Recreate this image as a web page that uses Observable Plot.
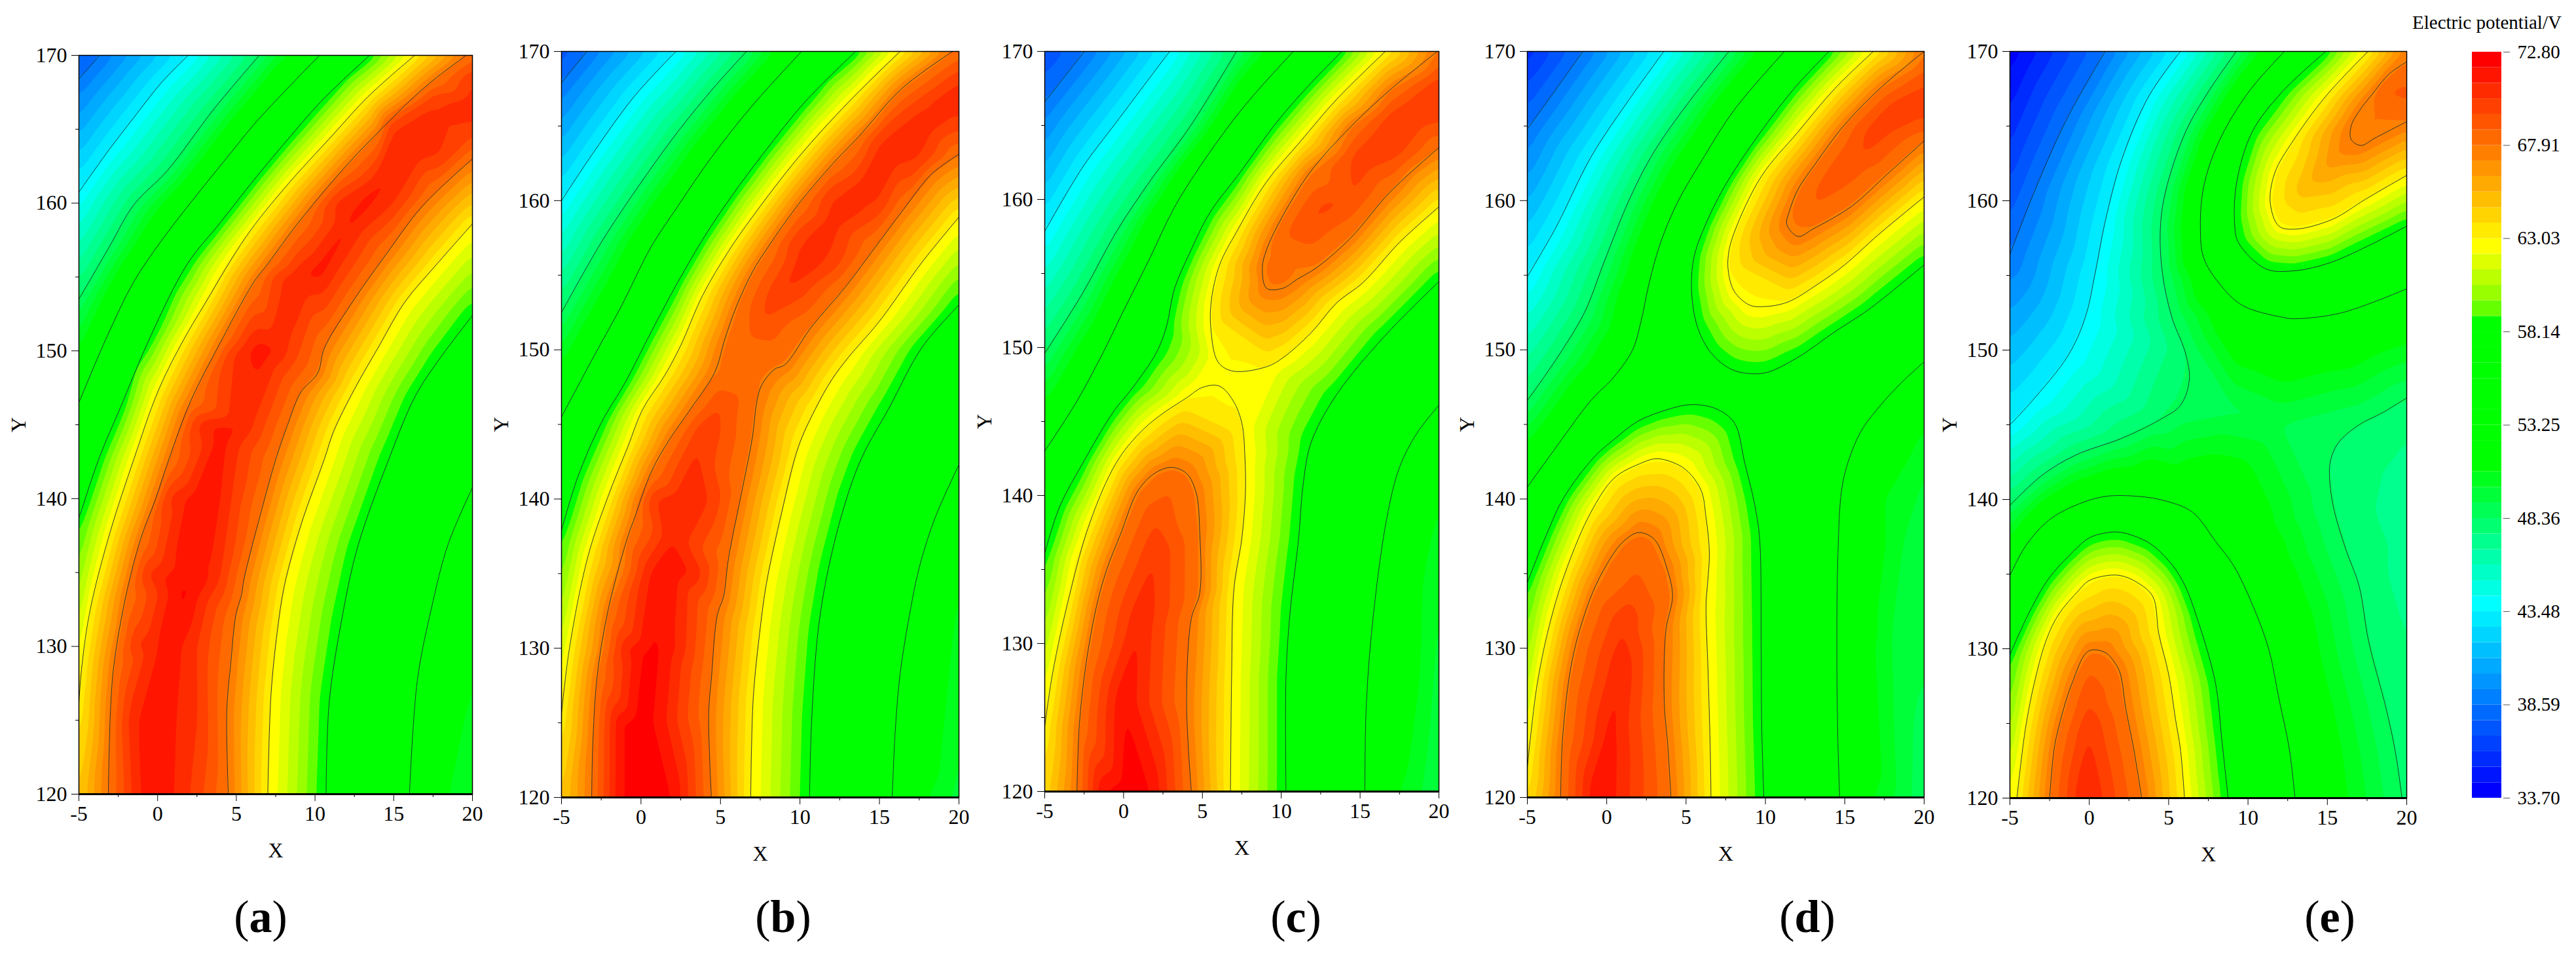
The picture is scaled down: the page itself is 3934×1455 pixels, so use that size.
<!DOCTYPE html>
<html>
<head>
<meta charset="utf-8">
<script src="https://cdn.jsdelivr.net/npm/d3@7"></script>
<script src="https://cdn.jsdelivr.net/npm/@observablehq/plot@0.6"></script>
<style>
html,body{margin:0;padding:0;background:#fff}
#page{position:relative;width:3934px;height:1455px;overflow:hidden;background:#fff;font-family:"Liberation Serif",serif;color:#000}
#page svg{position:absolute;overflow:visible;max-width:none}
.cap{position:absolute;transform:translateX(-50%);font-size:70px;line-height:70px;white-space:nowrap}
.title{position:absolute;font-size:29px;line-height:32px;white-space:nowrap}
</style>
</head>
<body>
<div id="page"></div>
<script>
// Colour bands shared by all panels
const levels = [33.70,34.51,35.33,36.14,36.96,37.77,38.59,39.40,40.22,41.03,41.85,42.66,43.48,44.29,45.10,45.92,46.73,47.55,48.36,49.18,49.99,50.81,51.62,52.44,53.25,54.06,54.88,55.69,56.51,57.32,58.14,58.95,59.77,60.58,61.40,62.21,63.03,63.84,64.65,65.47,66.28,67.10,67.91,68.73,69.54,70.36,71.17,71.99,72.80];
const bandColors = ["#0000ff","#0015ff","#002bff","#0040ff","#0055ff","#006aff","#0080ff","#0095ff","#00aaff","#00bfff","#00d5ff","#00eaff","#00ffff","#00ffe3","#00ffc6","#00ffaa","#00ff8e","#00ff71","#00ff55","#00ff39","#00ff1c","#00ff00","#00ff00","#00ff00","#00ff00","#00ff00","#00ff00","#00ff00","#00ff00","#00ff00","#00ff00","#66ff00","#99ff00","#bbff00","#ddff00","#ffff00","#ffea00","#ffd400","#ffbf00","#ffaa00","#ff9500","#ff8000","#ff6a00","#ff5500","#ff4000","#ff2b00","#ff1500","#ff0000"];
const barTicks = [33.70,38.59,43.48,48.36,53.25,58.14,63.03,67.91,72.80];
const xTicks = [-5,0,5,10,15,20];
const xMinor = [-2.5,2.5,7.5,12.5,17.5];
const yTicks = [120,130,140,150,160,170];
const yMinor = [125,135,145,155,165];

// Isolines: [level, [[x,y],...]]
const isolinesA = [
 [38.59,[[-5,168.4],[-3.68,170]]],
 [43.48,[[-5,160.75],[-3.09,163.6],[-1.5,165.8],[0.2,168.1],[1.94,170]]],
 [48.36,[[-5,153.5],[-3.09,157],[-1.5,159.9],[0.62,162.2],[3.6,166.4],[6.46,170]]],
 [53.25,[[-5,146.5],[-3.2,151],[-1.5,154.7],[0.41,157.7],[2.3,160.3],[4.65,163.4],[6.35,165.6],[10.28,170]]],
 [58.14,[[-5,138.7],[-4.9,139],[-3.73,142.7],[-2.35,146.2],[-0.44,151],[1.9,155.9],[4,158.7],[6.14,161.6],[8.5,164.6],[10.4,166.9],[13.46,170]]],
 [63.03,[[-5,126.2],[-4.8,128.8],[-4.26,132.6],[-3,137.8],[-1.5,142.7],[0,147.2],[1.47,150.4],[3.06,153.3],[5.6,157.7],[8.05,161],[11.2,164.7],[13.36,167.2],[16.33,170]]],
 [67.91,[[-3.13,120],[-3.09,122.4],[-2.98,126],[-2.77,128.8],[-2,133.5],[-1.07,137.3],[-0.12,140],[0.73,142.7],[2.1,146.6],[4,150.6],[6.14,154.7],[7,155.9],[9.1,158.9],[11.87,162.4],[14.2,165],[16.3,167.2],[17.6,168.4],[19.6,170]]],
 [67.91,[[20,163],[17.6,160.65],[16.4,159.27],[14.63,156.7],[12.5,153.5],[10.6,150.2],[10.17,148.5],[9.1,147.2],[8.26,145],[7.52,142.7],[6.55,139],[5.5,134.6],[5.33,133.5],[4.97,132.1],[4.66,129],[4.4,125.7],[4.49,120]]],
 [63.03,[[20,158.6],[17.6,155.7],[15.7,153.3],[14,150.2],[12.5,147.4],[11.2,144.6],[10.6,142.7],[9.1,138.2],[8.05,134.1],[7.6,131],[7.2,126.7],[7,120]]],
 [58.14,[[20,152.4],[17.6,149],[16.3,146.8],[14.7,142.7],[12.7,136.7],[11.66,131.6],[10.9,126.2],[10.7,120]]],
 [53.25,[[20,140.75],[18.45,136.9],[17.4,132.6],[16.5,127.7],[16,120]]]
];
const peaksA = [[-5,170,37.5],[20,170,68.3],[-5,120,64.5],[20,120,50.2],[18.45,120,50.81],[20,128,50.81],
 [0,120,71.7],[0.5,125,71.6],[0.8,130,71.5],[1.7,133.7,72.3],[2.5,140,71.6],[4,144,71.6],[6.57,150,71.7],[10.2,155.3,71.6],[12.3,158.7,71.4],[14,161,71.4],[16.5,163.4,70.8],[20,166.8,70.8],[20,168.4,70.36],[20,165.4,70.36],
 [-1.2,120,71.17],[-1.4,125,71.17],[-0.1,130,71.17],[0.73,135,71.17],[1.7,140,71.17],[3.4,145,71.17],[5.8,150,71.17],[9.1,155,71.17],
 [1.1,120,71.17],[1.2,125,71.17],[1.6,130,71.17],[3.5,135,71.17],[4.2,140,71.17],[5.3,145,71.17],[7.6,150,71.17],[10.5,155,71.17],
 [-1.65,120,70.36],[-1.9,125,70.36],[-1.4,130,70.36],[-0.65,135,70.36],[0.62,140,70.36],[2.5,145,70.36],[4.9,150,70.36],[7.85,155,70.36],[11.2,160,70.36],[14.8,165,70.36],[17.5,166.8,70.36],
 [2.1,120,70.36],[2.6,125,70.36],[2.53,130,70.36],[4,135,70.36],[4.65,140,70.36],[6.1,145,70.36],[8.26,150,70.36],[11.2,155,70.36],[15.05,160,70.36],[18,163.2,70.36]];

const isolinesB = [
 [38.59,[[-5,167.9],[-3.4,170]]],
 [43.48,[[-5,160],[-2.94,163.3],[-0.41,167],[2.2,170]]],
 [48.36,[[-5,152.5],[-2.5,157.2],[-0.2,160.9],[2.3,164.6],[4.64,167.65],[6.64,170]]],
 [53.25,[[-5,145.5],[-3.15,149.2],[-1.25,152.9],[0.64,156.9],[2.3,159.6],[4.43,162.9],[6.95,166.3],[10.1,170]]],
 [58.14,[[-5,137.9],[-4,141.4],[-2.5,145.1],[-1,147.8],[0.64,151.2],[2.3,154.5],[4,157.6],[5.7,160.3],[7.8,163.3],[10.3,166.6],[13.5,170]]],
 [63.03,[[-5,125.6],[-4.5,130],[-3.35,136.1],[-2.1,140.1],[-0.83,143.5],[0.1,146],[1.5,148.3],[2.5,150.3],[3.9,153.7],[5.5,156.6],[7,158.9],[9.9,162.9],[13.05,166.6],[16.3,170]]],
 [67.91,[[-3.1,120],[-3.04,123.3],[-2.77,128],[-2.1,132.4],[-0.94,137.1],[-0.4,138.75],[0.64,141.8],[1.8,144],[3.16,146.1],[4.64,148.5],[5.27,150.7],[6,152.9],[7,155.2],[8,156.9],[9.9,159.75],[12,162.4],[13.7,164.3],[16.4,167.5],[19.6,170]]],
 [67.91,[[20,163.1],[18.3,161.8],[16.4,159.25],[14.75,156.9],[12.85,154.2],[10.7,151.5],[9.05,149],[8.4,148.7],[7.6,147.65],[7.3,146.6],[7,144.1],[6.4,140.8],[5.5,136],[5.2,133.5],[4.8,132.2],[4.43,128],[4.26,125.6],[4.43,120]]],
 [63.03,[[20,158.9],[17.7,155.9],[14.95,151.85],[13.05,149.5],[12,148],[10.95,146],[9.9,143.5],[8.85,139.1],[7.9,134.4],[7.5,131.35],[7.06,126.65],[6.9,120]]],
 [58.14,[[20,153],[17.7,150.2],[15.6,146.1],[13.9,142.8],[12.85,139.75],[11.8,135.4],[11.16,131.35],[10.74,125.3],[10.6,120]]],
 [53.25,[[20,142.3],[18.5,138.75],[17.5,135.4],[16.85,132],[16.3,128.3],[16,124.6],[15.8,120]]]
];
const peaksB = [[-5,170,37.3],[20,170,68.2],[-5,120,64.5],[20,120,49.7],[18.1,120,50.81],[19.4,120,50],[20,135,50.81],
 [0.5,120,72.5],[-1.25,120,72],[2,120,72],[-0.2,125,72.3],[-1.25,125,72],[0.9,125,72],[0,129.7,72],[1.27,129.7,72],[0.6,129.7,72.2],[-0.9,130,71.17],[2.2,130,71.17],
 [1,135,71.6],[2,135,71.6],[0.54,135,71.17],[3.2,135,71.17],[2,137.4,71.17],[0.85,140,70.36],[2.5,140,70.9],[4.36,140,70.36],[3.5,143.1,70.5],[4,144.5,70.36],[5,146.3,69.54],[5.9,149.85,68.3],
 [6.85,150.85,68.73],[7.6,152,69.54],[8.8,153.9,70.36],[10,155.5,70.8],[12,158.5,70.8],[14,161,70.8],[16,163,70.8],[18,165,70.8],[20,166.8,70.8],
 [9.9,157.2,70.36],[12,160.25,70.36],[14.95,163.95,70.36],[17.5,166.1,70.36],[20,168,70.36],[10,154.6,70.36],[11.8,155.9,70.36],[14.95,159.9,70.36],[17.5,162.8,70.36],[20,165.6,70.36]];

const isolinesC = [
 [38.59,[[-5,166.6],[-2.48,170]]],
 [43.48,[[-5,157.85],[-2.58,162.2],[-0.47,165.2],[2.92,170]]],
 [48.36,[[-5,149.6],[-2.58,153.7],[-0.47,157.8],[1.65,161.2],[4.2,164.9],[7.16,170]]],
 [53.25,[[-5,143],[-3,146.3],[-1.3,149.65],[-0.04,152.4],[1.65,156],[3.14,159.3],[4.83,162.2],[7.58,166.2],[10.76,170]]],
 [58.14,[[-5,136.1],[-4.07,139.2],[-2.58,142.2],[-0.68,145.6],[0.59,147.3],[2.08,149.65],[2.7,151.35],[3.24,154],[4.2,156.4],[5.47,159.1],[7.37,161.8],[9.7,165.2],[11.4,167.3],[13.83,170]]],
 [63.03,[[16.6,170],[13.5,166.75],[11.2,163.9],[9.07,161.2],[7.16,157.8],[6.1,155.6],[5.57,153.2],[5.53,151.35],[6,149],[6.95,148.4],[9.07,148.7],[10.1,149.3],[11.9,151],[13.5,153],[15.2,154.4],[17.5,157.1],[20,159.5]]],
 [63.03,[[-5,124.4],[-4.5,128],[-3.4,133.4],[-2.16,138.1],[-0.47,142.2],[1,144.2],[2.3,145.4],[4,146.6],[5,147.3],[6.06,147.4],[6.95,146.4],[7.5,144.9],[7.7,142.5],[7.73,140.2],[7.5,137.1],[7,133.7],[6.85,127.65],[6.78,120]]],
 [67.91,[[20,163.5],[16.9,160.5],[14.4,157.4],[12.25,155.4],[11,154.6],[10.1,154],[9.07,154],[8.8,155.4],[9.07,156.6],[9.9,158.5],[11.8,161.8],[14.4,164.9],[16.9,167.4],[19.9,170]]],
 [67.91,[[-2.96,120],[-2.8,124.6],[-2.37,128.7],[-1.74,132.4],[-1.1,134.9],[-0.15,137.5],[0.9,140.3],[1.97,141.5],[3.03,141.9],[3.98,141.5],[4.6,140.2],[4.83,137.5],[4.83,133.4],[4.3,131.7],[4,126],[4.3,120]]],
 [58.14,[[20,154.45],[16.5,150.7],[13.5,146.8],[11.9,143.6],[11.4,140.85],[11.1,137.1],[10.55,132],[10.3,127.7],[10.3,120]]],
 [53.25,[[20,146.1],[18.6,144.2],[17.5,141.9],[16.7,138.5],[15.85,132],[15.4,126],[15.3,120]]]
];
const peaksC = [[-5,170,37],[20,170,68.1],[-5,120,64],[20,120,49.2],[17.5,120,50.81],[18.9,120,50],[18.8,127.7,50.81],[20,139.5,50.81],[20,134.4,50],
 [0.3,120,72.6],[-1.3,120,72],[1.75,120,72],[0,126,72],[1,131.2,71.17],[2,136,70.36],[2,138.3,69.54],[3,140.3,68.7],
 [9.4,155.3,68.1],[11.6,158.4,69.6],[12.8,159.5,69.8],[15.2,162.5,70],[16.6,164,70.5],[18.3,165.8,70.5],[20,167.3,70.5],
 [14.4,160.1,69.54],[17.5,162.9,69.54],[20,165.2,69.54],[14.4,162.9,69.54],[16.9,165.9,69.54],[20,168.3,69.54],[7,147.9,62.8]];

const isolinesD = [
 [38.59,[[-5,164.8],[-3.3,167.3],[-1.5,170]]],
 [43.48,[[-5,154.9],[-3.2,158.2],[-1,162.9],[1.3,166.6],[3.6,170]]],
 [48.36,[[-5,146.6],[-3.1,149.5],[-1.4,152.5],[-0.16,155.9],[1.5,160.25],[3,163.3],[5.1,166.5],[7.7,170]]],
 [53.25,[[-5,140.8],[-3.1,143.6],[-1,146.6],[0.47,148.2],[1.63,150],[2.15,151.85],[2.68,154.5],[3.4,157.2],[4.47,159.9],[5.94,162.6],[8.05,166.1],[11.2,170]]],
 [58.14,[[14,170],[11.8,167.5],[9.3,164],[7.4,160.9],[6.15,158.2],[5.5,156.2],[5.35,153.9],[5.73,151.5],[6.57,149.8],[7.84,148.7],[9.1,148.4],[10.15,148.5],[12.05,149.5],[14.36,151.2],[16.5,152.7],[20,155.7]]],
 [63.03,[[16.8,170],[14.36,167.5],[12.05,164.6],[9.73,161.6],[8.05,157.9],[7.67,156.4],[7.67,155.2],[8.05,153.9],[9,153],[9.94,152.9],[11.4,153.2],[13.3,154.4],[15,155.7],[17.1,157.7],[20,160.25]]],
 [67.91,[[20,164],[17.7,161.8],[15.4,159.6],[13,158.1],[12.05,157.6],[11.35,158.4],[11.5,159.25],[12.05,160.75],[13.1,162.4],[15,165.1],[17.3,167.6],[20,170]]],
 [63.03,[[-5,122],[-4.37,127.65],[-3.5,132],[-2.5,135.4],[-1,139.1],[0.47,141.4],[2.05,142.35],[3.1,142.7],[4.05,142.5],[5,141.95],[5.94,140.6],[6.26,138.75],[6.47,136.4],[6.36,134.4],[6.26,133],[6.4,128],[6.53,123],[6.57,120]]],
 [67.91,[[-2.9,120],[-2.8,123.6],[-2.37,128],[-1.84,130.7],[-0.9,133.7],[0.05,135.7],[1,137.1],[2,137.75],[3,137.3],[3.84,135.2],[4.15,133.5],[3.73,131.2],[3.63,126.3],[3.84,123.6],[4.05,120]]],
 [58.14,[[-5,134.4],[-3.74,137.75],[-2.7,140.1],[-0.8,142.8],[0.47,144],[1.94,145.2],[3.84,146],[5,146.3],[5.94,146.3],[7,146],[8.05,145.1],[8.7,142.4],[9.3,139.75],[9.63,137.4],[9.73,130.3],[9.77,124.6],[9.9,120]]],
 [53.25,[[20,149.2],[18.57,147.8],[17.1,146.1],[16,144.5],[15.2,142.45],[14.8,140.6],[14.57,136.4],[14.5,129.7],[14.57,123.6],[14.68,120]]]
];
const peaksD = [[-5,170,35.7],[20,170,67.9],[-5,120,63.6],[20,120,48.7],[16.8,120,50.81],[18,120,50],[19.2,120,49.17],[20,144.8,50.81],[20,142,50],[17.9,131.4,50],[18.6,137.4,50],[16.9,130,50.81],[17.5,140,50.81],
 [-0.5,120,72.2],[0.2,124,71.6],[0.9,128.5,71.17],[1,131.4,70.36],[1.9,134.7,68.9],[2,136.5,68.3],
 [12.9,159.6,68.73],[14,161.2,69.2],[15.4,162.8,69.54],[16.5,163,69.54],[16,164.6,69.54],[17.5,164.6,69.8],[18,166.3,69.9],[20,166.3,70],[20,167.8,69.54],[20,165.5,69.54],[20,168.8,68.73],[20,164.7,68.73]];

const isolinesE = [
 [38.59,[[-5,156.4],[-3.6,160.25],[-1.5,165.3],[1,170]]],
 [43.48,[[-5,145],[-3.6,146.6],[-1.3,149.7],[-0.25,152.2],[0.38,155.2],[1,158.6],[2.06,162.8],[3.75,167],[5.74,170]]],
 [48.36,[[-5,139.6],[-3,141.6],[-0.9,142.95],[2.06,144.1],[4.38,145.3],[5.74,146.3],[6.3,148],[6.06,149.8],[5.2,152.2],[4.6,155.2],[4.48,158.2],[4.8,160.6],[6.06,164.6],[7.5,167.3],[9.26,170]]],
 [53.25,[[12.3,170],[10.05,167.3],[8.16,163.95],[7.2,160.9],[7,158.2],[7.2,156.2],[8.16,154.5],[9.63,153],[12.16,152.2],[13,152.1],[15.9,152.5],[20,154.1]]],
 [58.14,[[14.9,170],[12.16,167.3],[10.26,164.6],[9.3,161.3],[9.15,158.6],[9.4,157.2],[11.1,155.45],[12.8,155.3],[15.3,155.9],[20,158.3]]],
 [63.03,[[17.56,170],[14.9,167],[12.8,163.95],[11.7,161.9],[11.4,159.9],[11.95,158.3],[13,158.1],[15.3,158.75],[17.4,160.1],[20,161.7]]],
 [67.91,[[20,169.3],[18.9,168.5],[17.8,167.1],[17,166],[16.5,165],[16.5,164.1],[17.1,163.7],[18,164.2],[20,165.3]]],
 [63.03,[[-4.56,120],[-4.03,124.6],[-3.4,128],[-2.67,130.7],[-1.93,132.3],[-0.67,133.9],[-0.04,134.55],[1.1,134.9],[1.96,134.9],[3,134.45],[4,133.5],[4.38,131],[5,128.3],[5.43,125.3],[5.74,123.3],[6,120]]],
 [58.14,[[-5,129.6],[-3.8,132.4],[-2.56,134.7],[-1.3,136.2],[-0.04,137.4],[1,137.75],[1.96,137.8],[3.75,137.1],[5,135.9],[5.95,134.4],[6.9,131.7],[7.95,127.7],[8.37,123.7],[8.75,120]]],
 [53.25,[[-5,134.9],[-4,136.9],[-2.56,138.6],[-0.88,139.6],[1,140.2],[3.12,140.2],[4.8,139.9],[6.5,139.15],[7.95,137.2],[9.1,135.55],[10.26,133],[11.3,130],[11.95,126.65],[12.6,123.3],[12.96,120]]],
 [48.36,[[20,146.8],[18.46,145.8],[17,145],[15.7,143.8],[15.2,142.6],[15.14,141.4],[15.4,139.4],[16.15,136.7],[17,134.2],[17.6,130.5],[18.7,126],[19.3,123],[19.7,120]]],
 [67.91,[[-2.5,120],[-2.25,123],[-2.03,124.3],[-1.1,127.65],[-0.04,129.85],[1,129.75],[1.65,129],[1.96,128.3],[2.3,126],[2.8,123.3],[3.3,120]]]
];
const peaksE = [[-5,170,34],[20,170,67.5],[-5,120,62.2],[20,120,48.2],
 [20,167.3,69],[19,167.3,68.9],[12.3,160,63.9],[13.5,160.8,65.2],[15.3,162.7,66.8],
 [-0.2,120,71.4],[-0.04,124.6,70.36],[-0.04,126.5,69.54],[-0.04,128.7,68.7],[0.5,129.5,68],
 [9,146,49],[12,145,49.2],[20,144.1,47.55],[18,142.1,47.55],[17.9,139.4,47.55],[18.8,134.7,47.55],[20,130.4,47.55],[20,137,47.2]];

const panels = [
 {isolines:isolinesA,peaks:peaksA,left:120,right:721,top:84,bottom:1212,name:"a",capX:398},
 {isolines:isolinesB,peaks:peaksB,left:857,right:1464,top:78,bottom:1217,name:"b",capX:1196},
 {isolines:isolinesC,peaks:peaksC,left:1595,right:2197,top:78,bottom:1208,name:"c",capX:1979},
 {isolines:isolinesD,peaks:peaksD,left:2332,right:2938,top:78,bottom:1217,name:"d",capX:2760},
 {isolines:isolinesE,peaks:peaksE,left:3069,right:3675,top:78,bottom:1218,name:"e",capX:3558}
];

const colorScale = {type:"threshold",domain:levels.slice(1,48),range:bandColors};
const fontFamily = '"Liberation Serif",serif';
const page = document.getElementById("page");
const mL=110,mR=40,mT=30,mB=110;

for (const p of panels) {
  const samples = [
    ...p.isolines.flatMap(([v,pts]) => pts.map(([x,y]) => ({x,y,v}))),
    ...p.peaks.map(([x,y,v]) => ({x,y,v}))
  ];
  const lineRows = p.isolines.flatMap(([v,pts],id) => pts.map(([x,y]) => ({x,y,id})));
  const chart = Plot.plot({
    width:p.right-p.left+mL+mR,
    height:p.bottom-p.top+mT+mB,
    marginLeft:mL,marginRight:mR,marginTop:mT,marginBottom:mB,
    style:{fontFamily,fontSize:"32px",background:"transparent",color:"#000"},
    x:{domain:[-5,20]},
    y:{domain:[120,170]},
    color:colorScale,
    marks:[
      Plot.contour(samples,{x:"x",y:"y",fill:"v",interpolate:"barycentric",thresholds:levels.slice(0,48),blur:3,pixelSize:2,clip:true}),
      Plot.line(lineRows,{x:"x",y:"y",z:"id",curve:"catmull-rom",stroke:"#1c2c34",strokeWidth:0.9,clip:true}),
      Plot.frame({stroke:"#000",strokeWidth:1.5}),
      Plot.ruleY([120],{stroke:"#000",strokeWidth:3}),
      Plot.axisX(xTicks,{anchor:"bottom",tickSize:11,tickPadding:7,fontSize:32,tickFormat:d=>String(d),label:"X",labelAnchor:"center",labelArrow:"none",labelOffset:96}),
      Plot.axisX(xMinor,{anchor:"bottom",tickSize:5,tickFormat:()=>"",label:null}),
      Plot.axisY(yTicks,{anchor:"left",tickSize:11,tickPadding:7,fontSize:32,tickFormat:d=>String(d),label:"Y",labelAnchor:"center",labelArrow:"none",labelOffset:104}),
      Plot.axisY(yMinor,{anchor:"left",tickSize:5,tickFormat:()=>"",label:null})
    ]
  });
  chart.style.left=(p.left-mL)+"px";
  chart.style.top=(p.top-mT)+"px";
  page.appendChild(chart);
  const cap=document.createElement("div");
  cap.className="cap";
  cap.style.left=p.capX+"px";
  cap.style.top="1365px";
  cap.innerHTML="(<b>"+p.name+"</b>)";
  page.appendChild(cap);
}

// Colour bar
const barRows = levels.slice(0,48).map((lo,i)=>({lo,hi:levels[i+1]}));
const bar = Plot.plot({
  width:47+110,height:1218-79+40,
  marginLeft:0,marginRight:110,marginTop:20,marginBottom:20,
  style:{fontFamily,fontSize:"29px",background:"transparent",color:"#000"},
  x:{domain:[0,47],axis:null},
  y:{domain:[33.7,72.8]},
  color:colorScale,
  marks:[
    Plot.rectY(barRows,{x1:0,x2:45,y1:"lo",y2:"hi",fill:"lo"}),
    Plot.axisY(barTicks,{anchor:"right",tickSize:10,tickPadding:12,fontSize:29,stroke:"#555",fill:"#000",tickFormat:d=>d.toFixed(2),label:null})
  ]
});
bar.style.left="3775px";
bar.style.top=(79-20)+"px";
page.appendChild(bar);

const title=document.createElement("div");
title.className="title";
title.style.left="3684px";
title.style.top="18px";
title.textContent="Electric potential/V";
page.appendChild(title);
</script>
</body>
</html>
